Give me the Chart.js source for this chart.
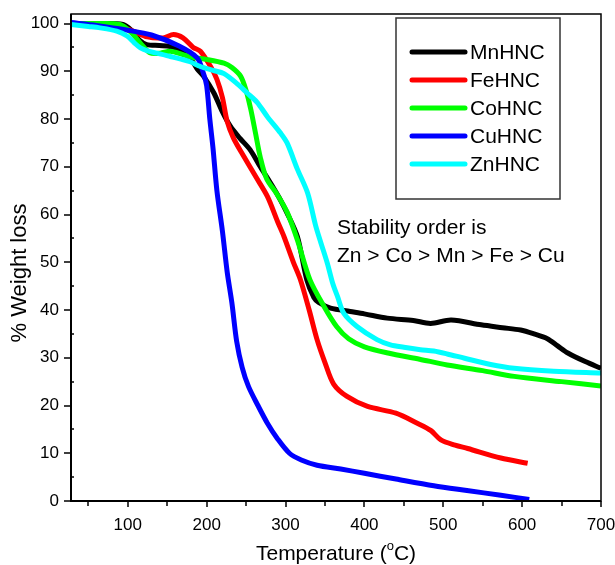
<!DOCTYPE html>
<html lang="en">
<head>
<meta charset="UTF-8">
<title>TGA curves</title>
<script src="https://cdn.jsdelivr.net/npm/chart.js"></script>
<style>
  html, body { margin: 0; padding: 0; background: #fff; }
  #wrap { width: 615px; height: 565px; }
</style>
</head>
<body>
<div id="wrap"><canvas id="tga" width="615" height="565"></canvas></div>
<script>
// series names / colours
const names = ['MnHNC', 'FeHNC', 'CoHNC', 'CuHNC', 'ZnHNC'];
const colors = ['#000000', '#ff0000', '#00ff00', '#0000ff', '#00ffff'];

// temperature (°C) and weight (%)
const mnTemp = [28, 60, 94, 105, 115, 124, 140, 154, 166, 180, 188, 196, 209, 220, 230, 242, 255, 268, 281, 292, 302, 315, 327, 336, 342, 357, 382, 400, 429, 462, 484, 510, 548, 575, 598, 615, 632, 645, 658, 680, 700];
const mnWeight = [100, 100, 99.8, 98.5, 96.5, 95.6, 95.4, 95.2, 94.5, 92.5, 90.5, 89, 85.5, 81.5, 78.5, 76, 73.6, 70, 66.6, 63.5, 60.3, 55.4, 46.3, 42.6, 41.6, 40.4, 39.7, 39.2, 38.3, 37.8, 37.2, 37.9, 36.9, 36.3, 35.8, 35, 34, 32.5, 31, 29.2, 27.8];

const feTemp = [28, 60, 100, 125, 145, 158, 170, 183, 192, 205, 213, 220, 226, 234, 247, 262, 277, 290, 298, 310, 319, 330, 340, 350, 361, 378, 404, 440, 467, 484, 497, 515, 531, 573, 607];
const feWeight = [100, 99.8, 98.8, 97.2, 97, 97.7, 97, 95, 94.2, 91, 88.3, 84.5, 79.5, 76, 72.2, 68, 63.8, 58.5, 55.4, 50, 46.3, 40, 33.8, 29, 24.5, 21.9, 19.8, 18.4, 16.3, 14.8, 12.8, 11.7, 11, 9, 7.9];

const coTemp = [28, 60, 90, 105, 116, 128, 141, 154, 170, 183, 200, 222, 232, 243, 250, 256, 262, 268, 276, 289, 302, 315, 331, 349, 365, 380, 400, 430, 470, 505, 550, 590, 650, 700];
const coWeight = [100, 100, 99.8, 98, 95.9, 93.9, 93.8, 94.2, 93.5, 92.9, 92.5, 91.7, 90.8, 89, 86, 82, 77, 72, 67.5, 64.3, 60.5, 54.7, 46.3, 40.7, 36.5, 34, 32.3, 31, 29.7, 28.5, 27.3, 26.1, 25, 24.1];

const cuTemp = [28, 60, 100, 130, 165, 188, 196, 200, 204, 208, 213, 220, 226, 232, 238, 245, 253, 265, 277, 290, 305, 320, 340, 370, 400, 440, 488, 530, 573, 609];
const cuWeight = [100.2, 99.6, 98.6, 97.6, 95.3, 92.8, 89.5, 87, 80, 74, 65, 56.5, 48, 41.5, 33.5, 28, 24, 20, 16.3, 13, 10, 8.6, 7.5, 6.7, 5.8, 4.6, 3.2, 2.2, 1.2, 0.3];

const znTemp = [28, 50, 65, 86, 99, 108, 116, 126, 137, 154, 166, 179, 192, 208, 222, 240, 251, 264, 277, 294, 302, 315, 328, 338, 345, 353, 360, 366, 374, 391, 416, 433, 450, 471, 488, 505, 527, 560, 590, 640, 700];
const znWeight = [99.8, 99.4, 99.1, 98.4, 97.4, 96, 94.9, 94.2, 93.8, 93.1, 92.6, 92, 91, 90.2, 89.5, 87.2, 85.5, 83.5, 80.5, 77, 75, 69.5, 64.5, 57.8, 54, 49.8, 45.5, 42.8, 39.3, 36.5, 33.8, 32.7, 32.2, 31.7, 31.4, 30.8, 29.9, 28.6, 27.8, 27.2, 26.8];

const temps = [mnTemp, feTemp, coTemp, cuTemp, znTemp];
const weights = [mnWeight, feWeight, coWeight, cuWeight, znWeight];

// axis ticks
const xTickLabels = [100, 200, 300, 400, 500, 600, 700];
const yTickLabels = [0, 10, 20, 30, 40, 50, 60, 70, 80, 90, 100];

const noteLines = ['Stability order is', 'Zn > Co > Mn > Fe > Cu'];
const FONT = 'Arial, "Liberation Sans", sans-serif';

// frame, tick marks, titles, legend and note
const decor = {
  id: 'decor',
  afterDraw(chart) {
    const { ctx, chartArea: a, scales: { x, y } } = chart;
    ctx.save();
    ctx.strokeStyle = '#000';
    ctx.fillStyle = '#000';

    // frame
    ctx.lineWidth = 1.5;
    ctx.strokeRect(a.left, a.top, a.right - a.left, a.bottom - a.top);
    ctx.lineWidth = 2;
    ctx.beginPath();
    ctx.moveTo(a.left, a.top); ctx.lineTo(a.left, a.bottom); ctx.lineTo(a.right, a.bottom);
    ctx.stroke();

    // ticks
    ctx.lineWidth = 1.5;
    ctx.beginPath();
    xTickLabels.forEach(v => {
      const px = Math.round(x.getPixelForValue(v));
      ctx.moveTo(px, a.bottom); ctx.lineTo(px, a.bottom + 6);
      const pm = Math.round(x.getPixelForValue(v - 50));
      ctx.moveTo(pm, a.bottom); ctx.lineTo(pm, a.bottom + 5);
    });
    yTickLabels.forEach(v => {
      const py = Math.round(y.getPixelForValue(v));
      ctx.moveTo(a.left, py); ctx.lineTo(a.left - 7, py);
      if (v < 100) {
        const pm = Math.round(y.getPixelForValue(v + 5));
        ctx.moveTo(a.left, pm); ctx.lineTo(a.left + 3, pm);
      }
    });
    ctx.stroke();

    // x title with superscript o
    ctx.textBaseline = 'alphabetic';
    ctx.textAlign = 'left';
    const big = '21px ' + FONT, small = '13px ' + FONT;
    ctx.font = big;
    const p1 = 'Temperature (', p3 = 'C)';
    const w1 = ctx.measureText(p1).width, w3 = ctx.measureText(p3).width;
    ctx.font = small;
    const w2 = ctx.measureText('o').width;
    let tx = (a.left + a.right) / 2 - (w1 + w2 + w3) / 2;
    const ty = 560;
    ctx.font = big; ctx.fillText(p1, tx, ty);
    ctx.font = small; ctx.fillText('o', tx + w1, ty - 10);
    ctx.font = big; ctx.fillText(p3, tx + w1 + w2, ty);

    // y title
    ctx.save();
    ctx.translate(26, 273);
    ctx.rotate(-Math.PI / 2);
    ctx.textAlign = 'center';
    ctx.font = '22px ' + FONT;
    ctx.fillText('% Weight loss', 0, 0);
    ctx.restore();

    // legend box
    ctx.strokeStyle = '#333';
    ctx.lineWidth = 1.5;
    ctx.fillStyle = '#fff';
    ctx.fillRect(396, 18, 164, 181);
    ctx.strokeRect(396, 18, 164, 181);
    ctx.font = '21px ' + FONT;
    ctx.textBaseline = 'middle';
    names.forEach((n, i) => {
      const ly = 52 + i * 28;
      ctx.strokeStyle = colors[i];
      ctx.lineWidth = 5;
      ctx.lineCap = 'round';
      ctx.beginPath(); ctx.moveTo(412, ly); ctx.lineTo(465, ly); ctx.stroke();
      ctx.fillStyle = '#000';
      ctx.fillText(n, 470, ly + 1);
    });

    // note
    ctx.textBaseline = 'alphabetic';
    ctx.font = '21px ' + FONT;
    ctx.fillText(noteLines[0], 337, 234);
    ctx.fillText(noteLines[1], 337, 262);
    ctx.restore();
  }
};

const datasets = names.map((n, i) => ({
  label: n,
  data: temps[i].map((t, j) => ({ x: t, y: weights[i][j] })),
  borderColor: colors[i],
  backgroundColor: colors[i],
  borderWidth: 5,
  pointRadius: 0,
  tension: 0.3,
  borderJoinStyle: 'round',
  order: names.length - i,
  fill: false
}));

new Chart(document.getElementById('tga'), {
  type: 'line',
  data: { datasets },
  options: {
    responsive: false,
    animation: false,
    layout: { padding: { top: 14, right: 14, left: 0, bottom: 0 } },
    plugins: { legend: { display: false }, tooltip: { enabled: false } },
    scales: {
      x: {
        type: 'linear',
        min: 28,
        max: 700,
        grid: { display: false },
        border: { display: false },
        ticks: {
          stepSize: 100,
          includeBounds: false,
          color: '#000',
          padding: 6,
          maxRotation: 0,
          font: { family: FONT, size: 17 }
        },
        afterFit(s) { s.height = 64; s.paddingLeft = 0; s.paddingRight = 0; }
      },
      y: {
        min: 0,
        max: 102,
        grid: { display: false },
        border: { display: false },
        ticks: {
          stepSize: 10,
          includeBounds: false,
          color: '#000',
          padding: 4,
          font: { family: FONT, size: 17 }
        },
        afterFit(s) { s.width = 71; s.paddingTop = 0; s.paddingBottom = 0; }
      }
    }
  },
  plugins: [decor]
});
</script>
</body>
</html>
